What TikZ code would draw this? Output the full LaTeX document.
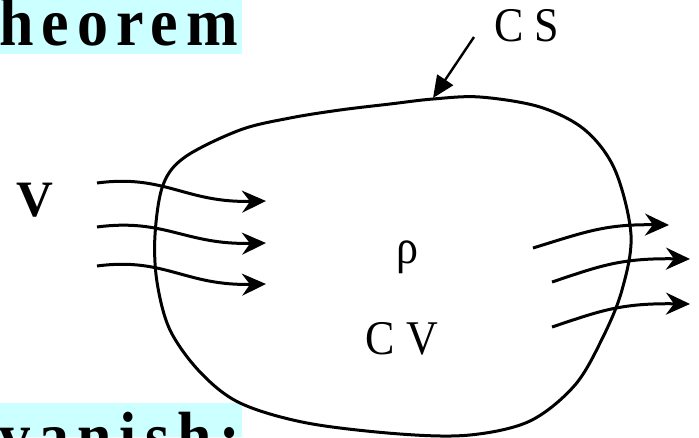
\documentclass[tikz,border=0pt]{standalone}
\usepackage{fontspec}
\setmainfont{Liberation Serif}
\usetikzlibrary{arrows.meta}
\definecolor{hilite}{HTML}{CCFFFF}
\tikzset{
  flow/.style={line width=3pt, -{Stealth[length=24pt,width=22pt,inset=8pt]}},
  boundary/.style={line width=3pt},
  pointer/.style={line width=2.4pt, -{Triangle[length=22pt,width=19pt]}},
  banner/.style={fill=hilite, draw=none},
  bigbold/.style={font=\fontsize{62}{62}\selectfont\bfseries\addfontfeature{LetterSpace=13}, inner sep=0pt},
  lbl/.style={font=\fontsize{44}{44}\selectfont, inner sep=0pt},
}
\newcommand{\tallish}[2]{\scalebox{1}[#1]{#2}}
\begin{document}
\begin{tikzpicture}[x=1pt,y=-1pt]
\useasboundingbox (0,0) rectangle (699,437);
\clip (0,0) rectangle (699,437);
% banners
\fill[banner] (0,0) rectangle (242,54);
\node[bigbold, anchor=base west] (title) at (-1,45) {\tallish{1.1}{heorem}};
\fill[banner] (0,403) rectangle (242,437);
\node[bigbold, anchor=base west] (vanish) at (-1,459) {\tallish{1.1}{vanish:}};
% control surface
\draw[boundary] plot[smooth cycle, tension=0.55] coordinates {
 (433,99) (480,97) (540,107) (585,130) (615,170) (631,235) (622,290) (603,337)
 (575,385) (530,421) (470,435) (400,434) (307,423) (240,403) (200,372) (170,330)
 (157,282) (155,235) (163,185) (185,157) (240,130) (290,118) (340,110) (390,104)};
\coordinate (cstip) at (433,98);
\coordinate (csfrom) at (474,37);
\draw[pointer] (csfrom) -- (cstip);
% labels
\node[lbl] (cs) at (527,26) {\tallish{1.1}{C S}};
\node[lbl] (rho) at (407,257) {\tallish{1.1}{ρ}};
\node[lbl] (cv) at (402,339) {\tallish{1.1}{C V}};
\node[font=\fontsize{51}{51}\selectfont\bfseries, inner sep=0pt] (vel) at (35,200) {V};
% inflow
\coordinate (a1) at (97,183); \coordinate (b1) at (266,201);
\coordinate (a2) at (97,227); \coordinate (b2) at (266,243);
\coordinate (a3) at (97,266); \coordinate (b3) at (266,284);
\draw[flow] (a1) .. controls (165,174) and (185,203) .. (b1);
\draw[flow] (a2) .. controls (165,218) and (185,245) .. (b2);
\draw[flow] (a3) .. controls (165,257) and (185,286) .. (b3);
% outflow
\coordinate (c1) at (533,248); \coordinate (d1) at (669,225);
\coordinate (c2) at (552,282); \coordinate (d2) at (690,259);
\coordinate (c3) at (552,327); \coordinate (d3) at (690,304);
\draw[flow] (c1) .. controls (585,232) and (605,224) .. (d1);
\draw[flow] (c2) .. controls (600,266) and (620,258) .. (d2);
\draw[flow] (c3) .. controls (600,311) and (620,303) .. (d3);
\end{tikzpicture}
\end{document}
